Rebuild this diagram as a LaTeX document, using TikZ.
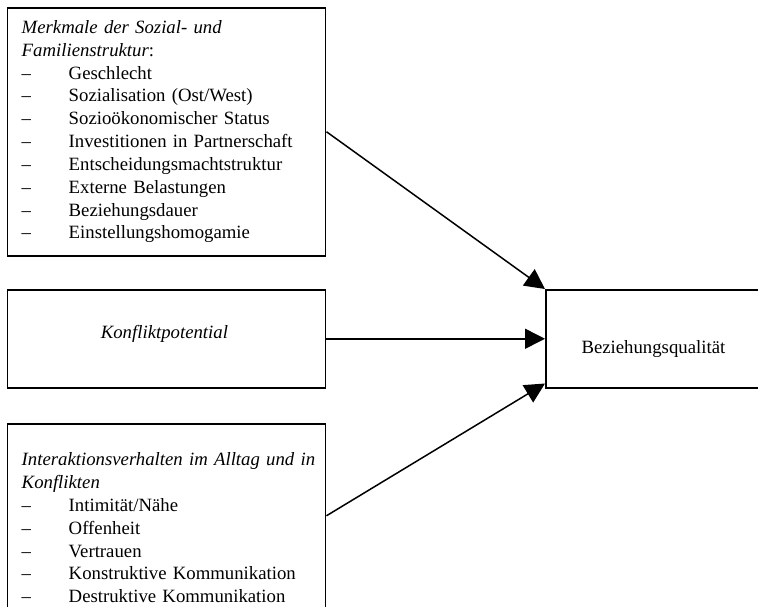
\documentclass[tikz,border=0pt]{standalone}
\usepackage{fontspec}
\setmainfont{Liberation Serif}
\usetikzlibrary{arrows.meta}

\newcommand{\itm}[1]{\makebox[28.2pt][l]{--}#1}

\begin{document}
\begin{tikzpicture}[
  x=0.6pt,
  y=-0.6pt,
  line width=0.9pt,
  >={Triangle[length=12pt,width=12pt]},
  every node/.style={
    draw,
    align=left,
    anchor=north west,
    inner ysep=3pt,
    font=\fontsize{11.25pt}{13.7pt}\selectfont,
  },
  listbox/.style={text width=174pt, inner xsep=8.4pt},
  ]
  \useasboundingbox (0,0) rectangle (758,606);
  \clip (0,0) rectangle (758,606);
  \node(merkmale)[listbox, minimum height=148.8pt] at (7,7){
    \mbox{\textit{Merkmale der Sozial- und}}\\
    \textit{Familienstruktur}:\\
    \itm{Geschlecht}\\
    \itm{Sozialisation (Ost/West)}\\
    \itm{Sozio\"okonomischer Status}\\
    \itm{Investitionen in Partnerschaft}\\
    \itm{Entscheidungsmachtstruktur}\\
    \itm{Externe Belastungen}\\
    \itm{Beziehungsdauer}\\
    \itm{Einstellungshomogamie}
  };
  \node(konflikt)[minimum width=190.8pt, minimum height=58.8pt, align=center] at (7,289){
    \raisebox{3pt}[8pt][2pt]{\textit{Konfliktpotential}}
  };
  \node(interaktion)[listbox, minimum height=124.8pt] at (7,423){
    \mbox{\textit{Interaktionsverhalten im Alltag und in}}\\
    \textit{Konflikten}\\
    \itm{Intimit\"at/N\"ahe}\\
    \itm{Offenheit}\\
    \itm{Vertrauen}\\
    \itm{Konstruktive Kommunikation}\\
    \itm{Destruktive Kommunikation}
  };
  \node(qualitaet)[minimum width=132pt, minimum height=58.8pt, align=center] at (545,289){
    \raisebox{-6pt}[8pt][2pt]{Beziehungsqualit\"at}
  };
  \draw[->] (merkmale.east) -- (qualitaet.north west);
  \draw[->] (konflikt.east) -- (qualitaet.west);
  \draw[->] ([yshift=7.2pt]interaktion.east) -- ([yshift=3pt]qualitaet.south west);
\end{tikzpicture}
\end{document}
